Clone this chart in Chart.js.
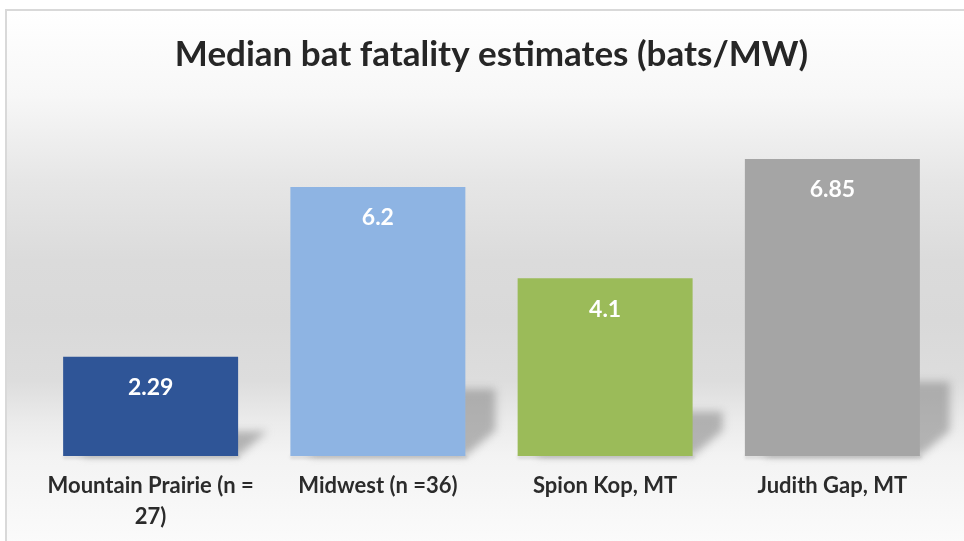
<!DOCTYPE html>
<html>
<head>
    <title>Median bat fatality estimates</title>
    <script src="https://cdn.jsdelivr.net/npm/chart.js"></script>
    <style>
        body {
            margin: 0;
            padding: 0;
            background: #ffffff;
            overflow: hidden;
        }
        .card {
            position: absolute;
            left: 5px;
            top: 9px;
            width: 1000px;
            height: 600px;
            border-left: 2px solid #d9d9d9;
            border-top: 2px solid #d9d9d9;
            background: linear-gradient(to bottom,
                #ffffff 0px, #f7f7f7 85px, #e6e6e6 170px, #dbdbdb 250px,
                #d9d9d9 310px, #dddddd 370px, #ebebeb 410px, #f3f3f3 445px,
                #f6f6f6 480px, #fbfbfb 532px);
        }
        #chart {
            position: absolute;
            left: 0;
            top: 0;
        }
    </style>
</head>
<body>
    <div class="card"></div>
    <canvas id="chart" width="964" height="541"></canvas>

    <script>
        const categories = [
            ['Mountain Prairie (n =', '27)'],
            'Midwest (n =36)',
            'Spion Kop, MT',
            'Judith Gap, MT'
        ];
        const fatalities = [2.29, 6.2, 4.1, 6.85];
        const barColors = ['#2f5597', '#8eb4e3', '#9bbb59', '#a5a5a5'];

        // perspective shadow behind each bar, like the office chart style
        const barShadows = {
            id: 'barShadows',
            beforeDatasetsDraw(chart) {
                const ctx = chart.ctx;
                const meta = chart.getDatasetMeta(0);
                ctx.save();
                ctx.filter = 'blur(4px)';
                ctx.fillStyle = 'rgba(140,140,140,0.62)';
                meta.data.forEach(bar => {
                    const x1 = bar.x - bar.width / 2;
                    const x2 = bar.x + bar.width / 2;
                    const h = bar.base - bar.y;
                    const ys = bar.base - h * 0.25;
                    const len = 30;
                    ctx.beginPath();
                    ctx.moveTo(x1 + 20, ys);
                    ctx.lineTo(x2 + len, ys);
                    ctx.lineTo(x2 + len, bar.base - len * 0.85);
                    ctx.lineTo(x2, bar.base);
                    ctx.lineTo(x1 + 20, bar.base);
                    ctx.closePath();
                    ctx.fill();
                });
                ctx.filter = 'blur(1.5px)';
                ctx.fillStyle = 'rgba(0,0,0,0.10)';
                meta.data.forEach(bar => {
                    ctx.fillRect(bar.x - bar.width / 2, bar.base - 1, bar.width + 2, 4);
                });
                ctx.restore();
            }
        };

        // white value labels inside the top of each bar
        const valueLabels = {
            id: 'valueLabels',
            afterDatasetsDraw(chart) {
                const ctx = chart.ctx;
                const meta = chart.getDatasetMeta(0);
                ctx.save();
                ctx.fillStyle = '#ffffff';
                ctx.font = 'bold 23px Lato';
                ctx.textAlign = 'center';
                ctx.textBaseline = 'middle';
                meta.data.forEach((bar, i) => {
                    ctx.fillText(String(fatalities[i]), bar.x, bar.y + 31);
                });
                ctx.restore();
            }
        };

        new Chart(document.getElementById('chart'), {
            type: 'bar',
            data: {
                labels: categories,
                datasets: [{
                    data: fatalities,
                    backgroundColor: barColors,
                    borderWidth: 0,
                    barPercentage: 0.77,
                    categoryPercentage: 1
                }]
            },
            options: {
                responsive: false,
                animation: false,
                layout: {
                    padding: { left: 37, right: 18, top: 0, bottom: 0 }
                },
                plugins: {
                    legend: { display: false },
                    tooltip: { enabled: false },
                    title: {
                        display: true,
                        text: 'Median bat fatality estimates (bats/MW)',
                        color: '#262626',
                        font: { family: 'Lato', size: 35, weight: 'bold', lineHeight: 1.2 },
                        padding: { top: 34, bottom: 33 }
                    }
                },
                scales: {
                    x: {
                        grid: { display: false },
                        border: { display: false },
                        ticks: {
                            color: '#2b2b2b',
                            padding: 7,
                            maxRotation: 0,
                            font: { family: 'Lato', size: 22, weight: 'bold', lineHeight: 1.4 }
                        },
                        afterFit(scale) {
                            scale.height = 85;
                        }
                    },
                    y: {
                        display: false,
                        min: 0,
                        max: 8
                    }
                }
            },
            plugins: [barShadows, valueLabels]
        });
    </script>
</body>
</html>
